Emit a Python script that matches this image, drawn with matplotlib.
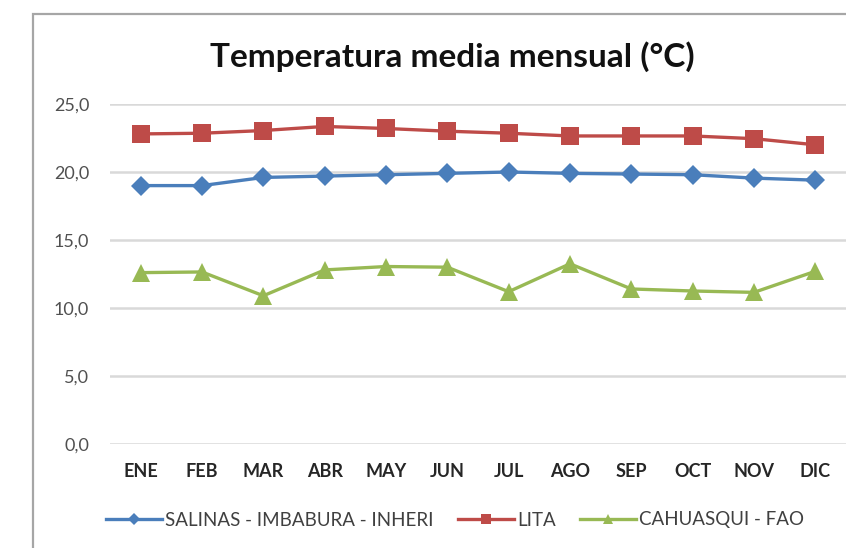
import matplotlib
matplotlib.use("Agg")
import matplotlib.pyplot as plt
from matplotlib.patches import Rectangle
from matplotlib.lines import Line2D

plt.rcParams['font.family'] = ['Lato', 'DejaVu Sans']

months = ["ENE", "FEB", "MAR", "ABR", "MAY", "JUN", "JUL", "AGO", "SEP", "OCT", "NOV", "DIC"]
salinas = [19.0, 19.0, 19.6, 19.7, 19.8, 19.9, 20.0, 19.9, 19.85, 19.8, 19.55, 19.4]
lita = [22.8, 22.85, 23.05, 23.35, 23.2, 23.0, 22.85, 22.65, 22.65, 22.65, 22.45, 22.0]
cahuasqui = [12.6, 12.65, 10.9, 12.8, 13.05, 13.0, 11.2, 13.25, 11.4, 11.25, 11.15, 12.7]
series_names = ["SALINAS - IMBABURA - INHERI", "LITA", "CAHUASQUI - FAO"]
yticks = [0, 5, 10, 15, 20, 25]

W, H = 846, 548
fig = plt.figure(figsize=(W / 100, H / 100), dpi=100)

# chart frame
fig.patches.append(Rectangle((33 / W, -0.05), 1.05, (H - 14) / H + 0.05,
                             transform=fig.transFigure, fill=False,
                             edgecolor="#a6a6a6", linewidth=1.6))

ax = fig.add_axes([110 / W, (H - 444) / H, 736 / W, 340 / H])
x = list(range(len(months)))

styles = [
    (salinas, "#4a7ebb", "D", 10.5),
    (lita, "#be4b48", "s", 13),
    (cahuasqui, "#98b954", "^", 13.5),
]
handles = []
for (vals, col, mk, ms), name in zip(styles, series_names):
    ax.plot(x, vals, color=col, linewidth=2.4, marker=mk, markersize=ms,
            markeredgewidth=0, clip_on=False, zorder=3)
    handles.append(Line2D([0], [0], color=col, linewidth=2.4, marker=mk,
                          markersize=ms * 0.55, markeredgewidth=0, label=name))

ax.set_xlim(-0.5, len(months) - 0.5)
ax.set_ylim(0, 25)
ax.set_yticks(yticks)
ax.set_yticklabels([f"{v:.1f}".replace(".", ",") for v in yticks],
                   fontsize=13, color="#505050")
ax.set_xticks(x)
ax.set_xticklabels(months, fontsize=13, fontweight="bold", color="#262626")
ax.tick_params(axis="both", length=0)
ax.tick_params(axis="y", pad=15)
ax.tick_params(axis="x", pad=14)
for s in ax.spines.values():
    s.set_visible(False)
ax.grid(axis="y", color="#d9d9d9", linewidth=1.8)
ax.set_axisbelow(True)

fig.text(452 / W, 1 - 57 / H, "Temperatura media mensual (°C)", ha="center",
         va="center", fontsize=24, fontweight="bold", color="#111111")

fig.legend(handles=handles, loc="center", bbox_to_anchor=(455 / W, 1 - 520 / H),
           ncol=3, frameon=False, fontsize=13.5, handlelength=3.0,
           columnspacing=1.3, handletextpad=0.15, labelcolor="#404040")

fig.savefig("out.png", dpi=100, facecolor="white")
